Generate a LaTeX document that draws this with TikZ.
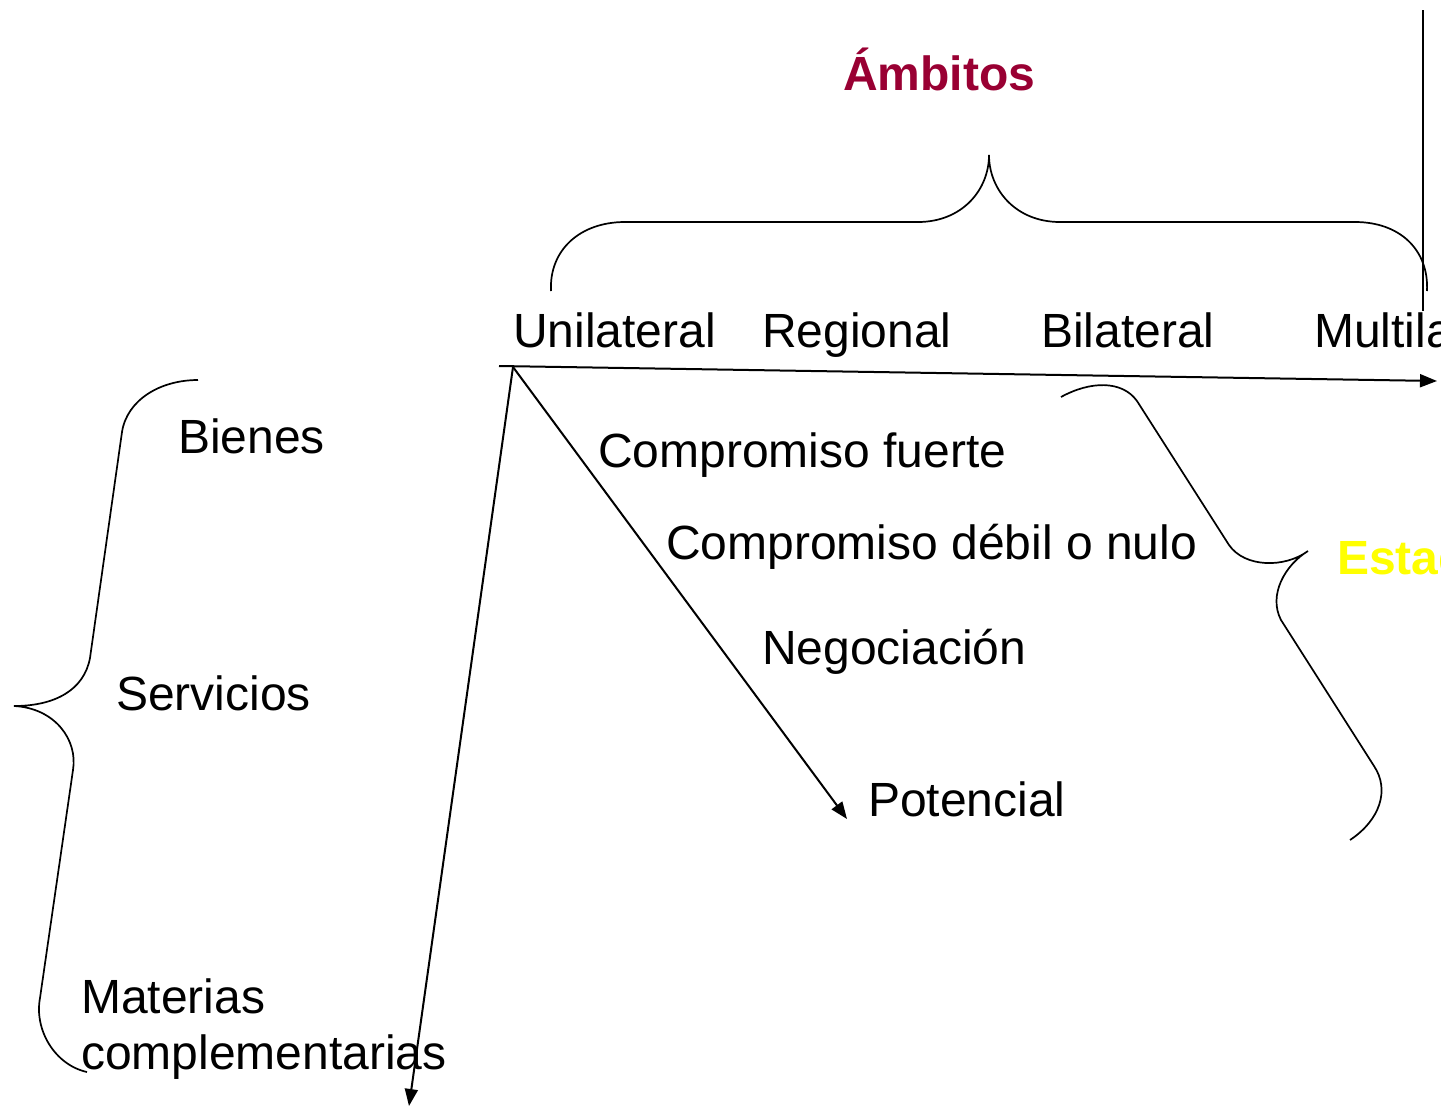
\documentclass[tikz,border=0pt]{standalone}
\usepackage{fontspec}
\setmainfont{Liberation Sans}
\usetikzlibrary{arrows.meta}
\definecolor{titlered}{RGB}{153,0,51}
\definecolor{estyellow}{RGB}{255,255,0}
\begin{document}
\begin{tikzpicture}[x=1pt,y=-1pt,
  lbl/.style={anchor=base west,inner sep=0pt,font=\fontsize{48}{56}\selectfont},
  ttl/.style={lbl,font=\fontsize{48}{56}\selectfont\bfseries},
  brace/.style={line width=1.7pt},
  axis/.style={line width=2pt,-{Triangle[length=17pt,width=13pt]}}]
\useasboundingbox (0,0) rectangle (1441,1109);
\clip (0,0) rectangle (1441,1109);
% title
\node[ttl,text=titlered] (amb) at (843,90) {Ámbitos};
\node[ttl,text=estyellow] (est) at (1337,574) {Estados};
% labels
\node[lbl] (uni) at (513,347) {Unilateral};
\node[lbl] (reg) at (762,347) {Regional};
\node[lbl] (bil) at (1041,347) {Bilateral};
\node[lbl] (mul) at (1314,347) {Multilateral};
\node[lbl] (bie) at (178,453) {Bienes};
\node[lbl] (ser) at (116,710) {Servicios};
\node[lbl] (mat) at (81,1013) {Materias};
\node[lbl] (com) at (81,1069) {complementarias};
\node[lbl] (cf) at (598,467) {Compromiso fuerte};
\node[lbl] (cd) at (666,559) {Compromiso débil o nulo};
\node[lbl] (neg) at (762,664) {Negociación};
\node[lbl] (pot) at (868,816) {Potencial};
% axes
\coordinate (o) at (513,367);
\coordinate (hs) at (499,366);
\coordinate (he) at (1437,381);
\coordinate (de) at (847,819);
\coordinate (ve) at (409,1106);
\draw[axis] (hs) -- (he);
\draw[axis] (o) -- (de);
\draw[axis] (o) -- (ve);
% vertical line
\coordinate (vt) at (1423,10);
\coordinate (vb) at (1423,311);
\draw[line width=1.7pt] (vt) -- (vb);
% top brace
\draw[brace] (551,291) .. controls (549,250) and (580,222) .. (625,222)
  -- (918,222) .. controls (962,222) and (989,190) .. (989,155)
  .. controls (989,190) and (1016,222) .. (1060,222)
  -- (1355,222) .. controls (1400,222) and (1429,250) .. (1427,291);
% left brace
\draw[brace] (198,380) .. controls (160,380) and (127,400) .. (122,432)
  -- (90,658) .. controls (84,690) and (55,706) .. (14,706)
  .. controls (55,708) and (78,740) .. (73,770)
  -- (40,998) .. controls (34,1030) and (55,1065) .. (87,1072);
% right brace
\draw[brace] (1061,397) .. controls (1090,381) and (1122,380) .. (1137,401)
  -- (1229,545) .. controls (1245,568) and (1285,568) .. (1308,551)
  .. controls (1285,565) and (1268,595) .. (1281,620)
  -- (1374,766) .. controls (1390,790) and (1380,820) .. (1350,840);
\end{tikzpicture}
\end{document}
